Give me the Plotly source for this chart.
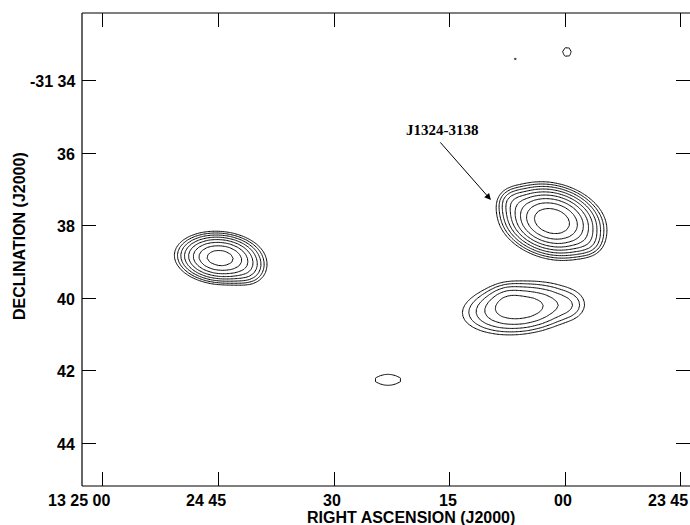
import numpy as np
import plotly.graph_objects as go

# Axis ticks: RA in seconds of time relative to 13h24m00s, Dec in arcmin south of -31 deg
RA_TICKS = [60, 45, 30, 15, 0, -15]
RA_LABELS = ["13 25 00", "24 45", "30", "15", "00", "23 45"]
DEC_TICKS = [34, 36, 38, 40, 42, 44]
DEC_LABELS = ["-31 34", "36", "38", "40", "42", "44"]

# Gaussian source components (RA s, Dec arcmin, peak in units of the lowest contour,
# major/minor sigma in arcmin, tilt in degrees)
SRC_RA_SEC = [1.74, 6.9, -3.0, 5.89, -0.85, 7.6, 44.82, 41.0, 23.02, -0.2, 6.5]
SRC_DEC_ARCMIN = [37.87, 37.3, 38.5, 40.27, 40.22, 39.95, 38.89, 39.3, 42.25, 33.21, 33.4]
SRC_PEAK = [22.0, 1.2, 1.0, 5.2, 0.7, 0.8, 14.0, 1.2, 1.25, 1.12, 1.1]
SRC_MAJ = [0.62, 0.25, 0.25, 0.88, 0.30, 0.3, 0.55, 0.3, 0.55, 0.27, 0.12]
SRC_MIN = [0.42, 0.22, 0.22, 0.40, 0.28, 0.25, 0.32, 0.25, 0.227, 0.27, 0.12]
SRC_TILT = [15, 0, 0, -6, 0, 0, 5, 0, 0, 0, 0]

# Contour levels: lowest level times powers of sqrt(2)
LOWEST_LEVEL = 1.0
N_LEVELS = 10

DEC0 = -31.63
ARCMIN_PER_SEC = 15 * np.cos(np.radians(DEC0)) / 60.0

xs = np.arange(-16.5, 63.01, 0.5)
ys = np.arange(32.0, 45.31, 0.1)
X, Y = np.meshgrid(xs, ys)
Z = np.full_like(X, 1e-6)
for ra, dec, pk, a, b, t in zip(SRC_RA_SEC, SRC_DEC_ARCMIN, SRC_PEAK, SRC_MAJ, SRC_MIN, SRC_TILT):
    dx = (ra - X) * ARCMIN_PER_SEC
    dy = Y - dec
    th = np.radians(t)
    u = dx * np.cos(th) + dy * np.sin(th)
    v = -dx * np.sin(th) + dy * np.cos(th)
    Z += pk * np.exp(-(u ** 2 / (2 * a ** 2) + v ** 2 / (2 * b ** 2)))

logZ = np.log2(Z)
l0 = np.log2(LOWEST_LEVEL)

fig = go.Figure()
fig.add_trace(go.Contour(
    x=xs, y=ys, z=logZ,
    contours=dict(start=l0, end=l0 + 0.5 * (N_LEVELS - 1), size=0.5, coloring="none"),
    line=dict(color="black", width=1, smoothing=0),
    showscale=False, hoverinfo="skip",
))

L, R, T, B = 82, 0, 13, 39
W, H = 690, 525
PW, PH = W - L - R, H - T - B


def px_x(p):
    return (p - L) / PW


def px_y(p):
    return (H - B - p) / PH


TICKFONT = dict(family="Liberation Sans, Arial, sans-serif", size=16, color="black", weight="bold")

axis_common = dict(showgrid=False, zeroline=False, showline=False, ticks="inside",
                   ticklen=14, tickwidth=1, tickcolor="black", mirror="ticks",
                   showticklabels=False)

fig.update_layout(
    width=W, height=H,
    margin=dict(l=L, r=R, t=T, b=B),
    paper_bgcolor="white", plot_bgcolor="white",
    showlegend=False,
    xaxis=dict(range=[62.72, -16.17], tickvals=RA_TICKS, **axis_common),
    yaxis=dict(range=[45.178, 32.133], tickvals=DEC_TICKS, **axis_common),
)

# Frame (left, bottom, top)
for x0, y0, x1, y1 in [(0, 0, 0, 1), (0, 0, 1, 0), (0, 1, 1, 1)]:
    fig.add_shape(type="line", xref="paper", yref="paper", x0=x0, y0=y0, x1=x1, y1=y1,
                  line=dict(color="black", width=1.2))

anns = []
for v, t in zip(RA_TICKS, RA_LABELS):
    anns.append(dict(x=v, xref="x", y=px_y(501), yref="paper", text=t, showarrow=False,
                     xanchor="right", yanchor="middle", xshift=9, font=TICKFONT))
for v, t in zip(DEC_TICKS, DEC_LABELS):
    anns.append(dict(x=0, xref="paper", y=v, yref="y", text=t, showarrow=False,
                     xanchor="right", yanchor="middle", xshift=-5, yshift=-1, font=TICKFONT))

anns.append(dict(x=px_x(410.5), y=px_y(517), xref="paper", yref="paper",
                 text="RIGHT ASCENSION (J2000)", showarrow=False,
                 xanchor="center", yanchor="middle", font=TICKFONT))
anns.append(dict(x=px_x(19), y=px_y(236), xref="paper", yref="paper",
                 text="DECLINATION (J2000)", showarrow=False, textangle=-90,
                 xanchor="center", yanchor="middle", font=TICKFONT))

anns.append(dict(x=15.88, y=35.36, xref="x", yref="y", text="J1324-3138", showarrow=False,
                 xanchor="center", yanchor="middle",
                 font=dict(family="Liberation Serif, Times New Roman, serif", size=15,
                           color="black", weight="bold")))
anns.append(dict(x=9.66, y=37.29, xref="x", yref="y", ax=16.4, ay=35.66, axref="x", ayref="y",
                 text="", showarrow=True, arrowhead=2, arrowsize=1.3, arrowwidth=1,
                 arrowcolor="black"))

fig.update_layout(annotations=anns)
fig.write_html("out.html")
